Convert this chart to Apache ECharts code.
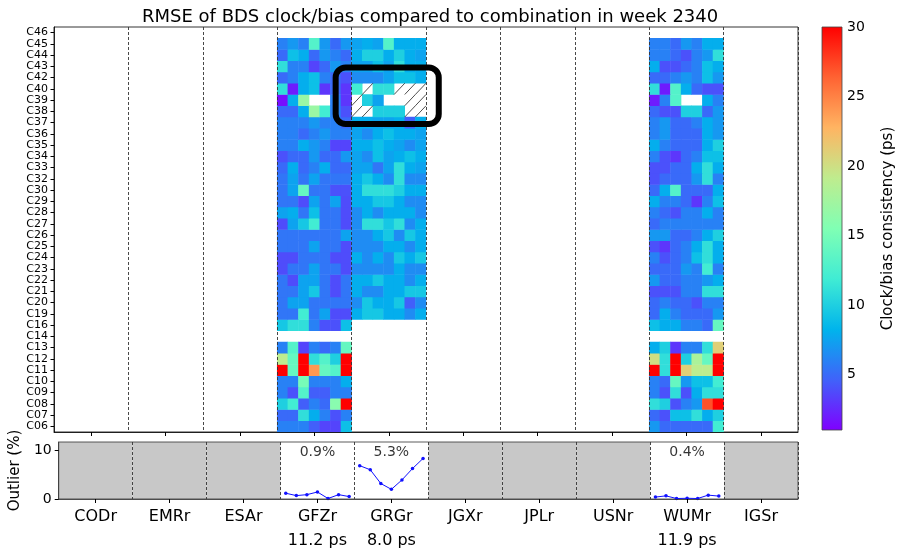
<!DOCTYPE html>
<html>
<head>
<meta charset="utf-8">
<script src="https://cdn.jsdelivr.net/npm/echarts@6/dist/echarts.min.js"></script>
<style>
  html, body { margin: 0; padding: 0; background: #fff; }
  #chart { width: 900px; height: 553px; }
</style>
</head>
<body>
<div id="chart"></div>
<script>
// analysis centres, 7 days each
const centers = ['CODr', 'EMRr', 'ESAr', 'GFZr', 'GRGr', 'JGXr', 'JPLr', 'USNr', 'WUMr', 'IGSr']
const days = [1, 2, 3, 4, 5, 6, 7]
const sats = ['C06', 'C07', 'C08', 'C09', 'C10', 'C11', 'C12', 'C13', 'C14', 'C16',
  'C19', 'C20', 'C21', 'C22', 'C23', 'C24', 'C25', 'C26', 'C27', 'C28', 'C29', 'C30',
  'C32', 'C33', 'C34', 'C35', 'C36', 'C37', 'C38', 'C39', 'C40', 'C42', 'C43', 'C44', 'C45', 'C46']

// RMSE (ps) per satellite (rows, C06 -> C46) and day
const gfzr = [
  [6, 6, 6, 4.5, 3.5, 3.5, 9],
  [5, 5, 11, 8, 6, 4, 6],
  [10, 12, 4.5, 6, 5, 16, 30],
  [6, 4, 13, 4.5, 4.5, 6, 6],
  [6, 6, 15, 6, 6, 6, 8],
  [30, 14, 30, 24, 14, 13, 30],
  [19, 14, 30, 11, 13, 10, 30],
  [6, 13, 3.5, 6, 5, 6, 14],
  null,
  [9.5, 11, 11, 6, 4, 4, 9],
  [5.5, 5.5, 12, 5.5, 7.5, 3.8, 3.8],
  [5.5, 7.5, 7.5, 5.5, 5.5, 5.5, 5.5],
  [5.5, 5.5, 7.5, 9.5, 5.5, 3.8, 5.5],
  [5.5, 3.8, 7.5, 7.5, 5.5, 3.8, 5.5],
  [3.8, 5.5, 5.5, 7.5, 5.5, 5.5, 3.8],
  [3.8, 3.8, 5.5, 5.5, 5.5, 3.8, 3.8],
  [5.5, 5.5, 5.5, 7.5, 5.5, 5.5, 3.8],
  [5.5, 5.5, 5.5, 5.5, 5.5, 5.5, 7.5],
  [3.8, 7.5, 9.5, 12, 5.5, 5.5, 3.8],
  [7.5, 8, 5.5, 9, 5.5, 5.5, 3.8],
  [5.5, 5.5, 3.8, 7.5, 5.5, 7.5, 3.8],
  [5.5, 7.5, 14, 5.5, 5.5, 4, 4],
  [5.5, 7.5, 5.5, 7.5, 5.5, 5.5, 5.5],
  [5, 8, 5, 6, 8, 5, 5],
  [4, 5, 5, 7, 5, 5, 7],
  [6, 6, 8, 7, 6, 3.5, 3.5],
  [6, 6, 5, 6, 7, 6, 6],
  [6, 6, 6, 7, 6, 6, 5],
  [5, 5, 8, 17, 12, 6, 4],
  [1.5, 8, 17, null, null, 6, 3],
  [11, 2, 8, 9, 3, 5, 3],
  [5, 6, 8, 9, 6, 5, 4],
  [11, 6, 6, 3.5, 5, 7, 6],
  [5, 9, 8, 5, 7, 6, 5],
  [6, 7, 6, 13, 7, 5, 7],
  null
]
const grgr = [
  null, null, null, null, null, null, null, null, null, null,
  [8, 9.5, 9.5, 8, 8, 6.5, 8],
  [6.5, 9.5, 8, 8, 9.5, 4.5, 6.5],
  [8, 6.5, 6.5, 8, 8, 9.5, 9.5],
  [8, 8, 9.5, 8, 8, 6.5, 8],
  [6.5, 6.5, 6.5, 6.5, 8, 6.5, 6.5],
  [8, 6.5, 8, 6.5, 9.5, 8, 9.5],
  [6.5, 6.5, 6.5, 8, 8, 6.5, 8],
  [6.5, 6.5, 8, 9.5, 6.5, 9.5, 8],
  [6.5, 11, 11, 9.5, 11, 6.5, 8],
  [6.5, 8, 6.5, 8, 8, 8, 6.5],
  [8, 8, 9.5, 9.5, 8, 6.5, 6.5],
  [8, 11, 11, 11, 10, 8, 8],
  [8, 9.5, 8, 6.5, 11, 6.5, 6.5],
  [7.5, 7.5, 5.5, 7.5, 11, 8, 7.5],
  [7.5, 6.5, 9, 7.5, 8, 9, 8],
  [8, 8, 9, 8, 7.5, 6.5, 7.5],
  [7.5, 6.5, 8, 9, 8, 8, 7.5],
  [8, 8, 7.5, 7.5, 8, 4.5, 8],
  [null, null, 10, 10, 10, null, null],
  [null, 10, 7.5, null, null, null, null],
  [12, null, 11, 11, null, null, null],
  [6.5, 6.5, 6.5, 7.5, 9, 9, 8],
  [7.5, 7.5, 9, 7.5, 11, 8, 8],
  [8, 10, 10, 8, 10, 8, 7.5],
  [7.5, 8, 7.5, 13, 8, 8, 8],
  null
]
const wumr = [
  [7, 5, 5, 5, 5, 5, 12],
  [5, 4, 9, 9, 11, 8, 10],
  [11, 10, 4, 6, 7, 27, 30],
  [6, 4, 11, 4, 8, 11, 11],
  [6, 5, 14, 7, 9, 9, 12],
  [30, 11, 30, 21, 19, 19, 30],
  [20, 11, 30, 10, 18, 14, 30],
  [8, 10, 3, 6, 6, 11, 21],
  null,
  [9, 8, 8, 6, 6, 5, 14],
  [5, 8, 6, 5, 5, 5, 7],
  [5, 6, 5, 5, 4, 6, 6],
  [4, 4, 4, 6, 6, 11, 11],
  [7, 5, 5, 6, 6, 7, 8],
  [5, 5, 5, 7, 6, 12, 6],
  [6, 4, 5, 6, 9, 11, 8],
  [4, 3, 5, 6, 8, 11, 8],
  [7, 7, 5, 5, 6, 8, 10],
  [5, 6, 6, 6, 6, 6, 6],
  [6, 5, 4, 6, 6, 8, 6],
  [8, 6, 6, 5, 3, 6, 9],
  [5, 8, 13, 5, 5, 5, 8],
  [4, 5, 5, 5, 7, 11, 6],
  [4, 4, 5, 5, 8, 11, 8],
  [6, 4, 3, 5, 6, 9, 9],
  [8, 6, 5, 5, 5, 8, 10],
  [6, 7, 5, 5, 5, 8, 7],
  [6, 7, 5, 5, 6, 8, 7],
  [5, 4, 4, 10, 10, 5, 7],
  [2, 6, 13, null, null, 8, 6],
  [11, 2, 13, 8, 5, 4, 4],
  [5, 5, 6, 7, 6, 9, 7],
  [8, 4, 4, 5, 6, 9, 8],
  [6, 6, 5, 4, 6, 7, 11],
  [6, 6, 5, 7, 6, 8, 8],
  null
]
// GRGr cells shown hatched: [satellite, day index]
const grgrHatched = [
  ['C38', 0], ['C38', 1], ['C38', 5], ['C38', 6],
  ['C39', 0], ['C39', 5], ['C39', 6],
  ['C40', 1], ['C40', 4], ['C40', 5], ['C40', 6]
]

// outlier percentage per day
const gfzrOutlier = [1.2, 0.7, 0.9, 1.45, 0.1, 0.9, 0.5]
const grgrOutlier = [6.9, 6.05, 3.2, 2.0, 3.95, 6.3, 8.4]
const wumrOutlier = [0.4, 0.65, 0.1, 0.15, 0.1, 0.8, 0.6]
const outlierCenters = ['GFZr', 'GRGr', 'WUMr']
const outlierMean = ['0.9%', '5.3%', '0.4%']
const rmsMean = ['11.2 ps', '8.0 ps', '11.9 ps']

const cbarTicks = [5, 10, 15, 20, 25, 30]
const rainbow = ['#8000ff', '#4062fa', '#00b4ec', '#40ecd4', '#80ffb4', '#bfec8e', '#ffb462', '#ff6232', '#ff0000']

const FONT = 'DejaVu Sans'
const cols = []
centers.forEach(c => days.forEach(d => cols.push(c + ' d' + d)))

const cellData = []
function addCenter(name, rows) {
  const c0 = centers.indexOf(name) * 7
  rows.forEach((row, si) => {
    if (!row) return
    row.forEach((v, d) => { if (v != null) cellData.push([c0 + d, si, v]) })
  })
}
addCenter('GFZr', gfzr)
addCenter('GRGr', grgr)
addCenter('WUMr', wumr)

const hatchData = grgrHatched.map(h => [centers.indexOf('GRGr') * 7 + h[1], sats.indexOf(h[0])])

const outlierSeries = [gfzrOutlier, grgrOutlier, wumrOutlier].map((vals, k) => {
  const c0 = centers.indexOf(outlierCenters[k]) * 7
  return {
    type: 'line', xAxisIndex: 1, yAxisIndex: 1,
    data: vals.map((v, d) => [c0 + d, v]),
    symbol: 'circle', symbolSize: 3.5, showSymbol: true,
    lineStyle: { color: '#1010ff', width: 1 },
    itemStyle: { color: '#1010ff' },
    silent: true, animation: false
  }
})

const noData = centers.filter(c => outlierCenters.indexOf(c) < 0).map(c => centers.indexOf(c) * 7)

const dashed = { show: true, lineStyle: { color: '#333', width: 0.9, type: [3, 2] } }
const groupBound = idx => idx % 7 === 0 && idx > 0
const groupMid = idx => idx % 7 === 3

const chart = echarts.init(document.getElementById('chart'))
chart.setOption({
  animation: false,
  textStyle: { fontFamily: FONT, color: '#000' },
  title: {
    text: 'RMSE of BDS clock/bias compared to combination in week 2340',
    left: 137, top: 3,
    textStyle: { fontFamily: FONT, fontSize: 18, fontWeight: 'normal', color: '#000' }
  },
  grid: [
    { left: 54, top: 27, width: 744, height: 405, show: true, borderColor: '#000', borderWidth: 0.8 },
    { left: 54, top: 442, width: 744, height: 60, show: true, borderColor: '#333', borderWidth: 0.8 },
    { left: 822, top: 27, width: 20, height: 403 }
  ],
  visualMap: {
    type: 'continuous', show: false, min: 1, max: 30, seriesIndex: 0, dimension: 2,
    inRange: { color: rainbow }
  },
  xAxis: [
    {
      type: 'category', gridIndex: 0, data: cols, z: 5,
      axisLine: { show: true, lineStyle: { color: '#000', width: 0.8 } },
      axisTick: { show: true, interval: groupMid, alignWithLabel: true, length: 4, lineStyle: { color: '#000' } },
      axisLabel: { show: false },
      splitLine: Object.assign({ interval: groupBound }, dashed)
    },
    {
      type: 'category', gridIndex: 1, data: cols, z: 5,
      axisLine: { show: true, lineStyle: { color: '#333', width: 0.8 } },
      axisTick: { show: true, interval: groupMid, alignWithLabel: true, length: 4, lineStyle: { color: '#000' } },
      axisLabel: {
        interval: groupMid, fontSize: 16, lineHeight: 24, margin: 6, color: '#000', fontFamily: FONT,
        formatter: (val, idx) => {
          const c = centers[Math.floor(idx / 7)]
          const k = outlierCenters.indexOf(c)
          return k >= 0 ? c + '\n' + rmsMean[k] : c
        }
      },
      splitLine: Object.assign({ interval: groupBound }, dashed)
    },
    { type: 'value', gridIndex: 2, min: 0, max: 1, show: false }
  ],
  yAxis: [
    {
      type: 'category', gridIndex: 0, data: sats, z: 5,
      axisLine: { show: true, lineStyle: { color: '#000', width: 0.8 } },
      axisTick: { show: true, interval: 0, alignWithLabel: true, length: 3.5, lineStyle: { color: '#000' } },
      axisLabel: { interval: 0, fontSize: 11, margin: 6, color: '#000', fontFamily: FONT },
      splitLine: { show: false }
    },
    {
      type: 'value', gridIndex: 1, min: 0, max: 11.8, z: 5,
      axisLine: { show: true, lineStyle: { color: '#333', width: 0.8 } },
      axisTick: { show: true, customValues: [0, 10], length: 4, lineStyle: { color: '#000' } },
      axisLabel: { customValues: [0, 10], fontSize: 14, margin: 7, color: '#000', fontFamily: FONT },
      splitLine: { show: false },
      name: 'Outlier (%)', nameLocation: 'middle', nameRotate: 90, nameGap: 26,
      nameTextStyle: { fontSize: 15, color: '#000', fontFamily: FONT }
    },
    {
      type: 'value', gridIndex: 2, min: 1, max: 30, position: 'right',
      axisLine: { show: false },
      axisTick: { show: true, customValues: cbarTicks, length: 4, lineStyle: { color: '#000' } },
      axisLabel: { customValues: cbarTicks, fontSize: 14, margin: 5, color: '#000', fontFamily: FONT },
      splitLine: { show: false },
      name: 'Clock/bias consistency (ps)', nameLocation: 'middle', nameRotate: 90, nameGap: 39,
      nameTextStyle: { fontSize: 15, color: '#000', fontFamily: FONT }
    }
  ],
  series: [
    {
      type: 'heatmap', xAxisIndex: 0, yAxisIndex: 0, data: cellData,
      itemStyle: { borderWidth: 0 }, emphasis: { disabled: true }, silent: true, progressive: 0
    },
    {
      // hatched cells
      type: 'custom', xAxisIndex: 0, yAxisIndex: 0, data: hatchData, silent: true, z: 3,
      renderItem: (params, api) => {
        const p = api.coord([api.value(0), api.value(1)])
        const s = api.size([1, 1])
        return {
          type: 'line',
          shape: { x1: p[0] - s[0] / 2, y1: p[1] + s[1] / 2, x2: p[0] + s[0] / 2, y2: p[1] - s[1] / 2 },
          style: { stroke: '#222', lineWidth: 0.8 }
        }
      }
    },
    {
      // highlight box around the GRGr C37-C43 cells
      type: 'custom', xAxisIndex: 0, yAxisIndex: 0, silent: true, z: 6,
      data: [[centers.indexOf('GRGr') * 7 - 2, sats.indexOf('C37'), centers.indexOf('GRGr') * 7 + 8, sats.indexOf('C43')]],
      renderItem: (params, api) => {
        const a = api.coord([api.value(0), api.value(1)])
        const b = api.coord([api.value(2), api.value(3)])
        const s = api.size([1, 1])
        const x0 = a[0], x1 = b[0] - s[0] * 0.3
        const y0 = b[1] + s[1] * 0.1, y1 = a[1] + s[1] * 0.12
        return {
          type: 'rect',
          shape: { x: x0, y: y0, width: x1 - x0, height: y1 - y0, r: 10 },
          style: { fill: 'none', stroke: '#000', lineWidth: 6 }
        }
      }
    },
    {
      // grey background where a centre has no solution
      type: 'custom', xAxisIndex: 1, yAxisIndex: 1, data: noData.map(c => [c, 0]), silent: true, z: -1,
      renderItem: (params, api) => {
        const a = api.coord([api.value(0), 0])
        const b = api.coord([api.value(0) + 6, 11.8])
        const s = api.size([1, 1])
        return {
          type: 'rect',
          shape: { x: a[0] - s[0] / 2, y: b[1], width: b[0] - a[0] + s[0], height: a[1] - b[1] },
          style: { fill: '#c8c8c8' }
        }
      }
    },
    ...outlierSeries,
    {
      type: 'scatter', xAxisIndex: 1, yAxisIndex: 1, symbolSize: 0, silent: true,
      data: outlierCenters.map((c, k) => [centers.indexOf(c) * 7 + 3, 9.6, outlierMean[k]]),
      label: {
        show: true, position: 'inside', fontSize: 14, color: '#000', fontFamily: FONT,
        formatter: p => p.value[2]
      }
    },
    {
      // colour bar
      type: 'custom', xAxisIndex: 2, yAxisIndex: 2, data: [[1, 30]], silent: true,
      renderItem: (params, api) => {
        const a = api.coord([0, api.value(0)])
        const b = api.coord([1, api.value(1)])
        return {
          type: 'rect',
          shape: { x: a[0], y: b[1], width: b[0] - a[0], height: a[1] - b[1] },
          style: {
            fill: {
              type: 'linear', x: 0, y: 1, x2: 0, y2: 0, global: false,
              colorStops: rainbow.map((c, i) => ({ offset: i / (rainbow.length - 1), color: c }))
            },
            stroke: '#444', lineWidth: 0.8
          }
        }
      }
    }
  ]
})
</script>
</body>
</html>
